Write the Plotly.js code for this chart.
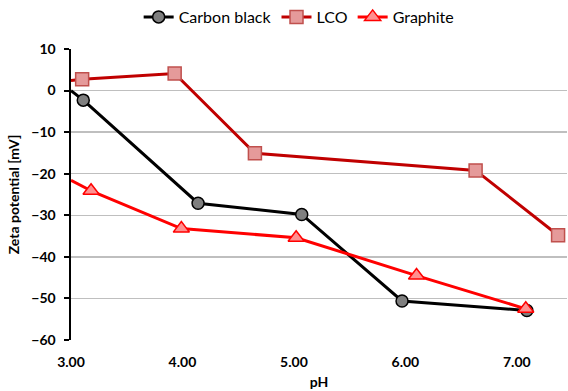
<!DOCTYPE html>
<html>
<head>
<meta charset="utf-8">
<script src="https://cdn.plot.ly/plotly-3.0.1.min.js"></script>
<style>html,body{margin:0;padding:0;background:#fff;}#chart{width:568px;height:391px;}</style>
</head>
<body>
<div id="chart"></div>
<script>
// Data
const cbPH = [3.11, 4.14, 5.07, 5.97, 7.09];
const cbZeta = [-2.3, -27.1, -29.8, -50.6, -52.9];
const cbLeadPH = [3.0, 3.11];
const cbLeadZeta = [0.0, -2.3];

const lcoPH = [3.10, 3.93, 4.65, 6.63, 7.37];
const lcoZeta = [2.7, 4.1, -15.1, -19.2, -34.8];
const lcoLeadPH = [3.0, 3.10];
const lcoLeadZeta = [2.4, 2.7];

const grPH = [3.18, 3.99, 5.02, 6.10, 7.08];
const grZeta = [-24.1, -33.2, -35.4, -44.5, -52.5];
const grLeadPH = [3.0, 3.18];
const grLeadZeta = [-21.6, -24.1];

const xTicks = [3, 4, 5, 6, 7];
const yTicks = [10, 0, -10, -20, -30, -40, -50, -60];

const FONT = 'Lato, "Open Sans", sans-serif';

const traces = [
  {x: cbLeadPH, y: cbLeadZeta, mode: 'lines', line: {color: '#000000', width: 3}, showlegend: false, hoverinfo: 'skip'},
  {x: lcoLeadPH, y: lcoLeadZeta, mode: 'lines', line: {color: '#C00000', width: 3}, showlegend: false, hoverinfo: 'skip'},
  {x: grLeadPH, y: grLeadZeta, mode: 'lines', line: {color: '#FF0000', width: 3}, showlegend: false, hoverinfo: 'skip'},
  {x: cbPH, y: cbZeta, name: 'Carbon black', mode: 'lines+markers',
   line: {color: '#000000', width: 3},
   marker: {symbol: 'circle', size: 12, color: '#7F7F7F', line: {color: '#000000', width: 1.5}}},
  {x: lcoPH, y: lcoZeta, name: 'LCO', mode: 'lines+markers',
   line: {color: '#C00000', width: 3},
   marker: {symbol: 'square', size: 13, color: '#E59A9A', line: {color: '#C0504D', width: 1.5}}},
  {x: grPH, y: grZeta, name: 'Graphite', mode: 'lines+markers',
   line: {color: '#FF0000', width: 3},
   marker: {symbol: 'triangle-up', size: 14, color: '#FF8F8F', line: {color: '#FF0000', width: 1.5}}}
];

const layout = {
  width: 568, height: 391,
  margin: {l: 71, r: 1, t: 49, b: 51, autoexpand: false},
  paper_bgcolor: '#ffffff', plot_bgcolor: '#ffffff',
  font: {family: FONT, color: '#000000'},
  showlegend: true,
  legend: {orientation: 'h', x: 0.46, xanchor: 'center', y: 1.11, yanchor: 'middle',
           font: {family: FONT, size: 16, color: '#000000'}, traceorder: 'normal'},
  xaxis: {
    range: [3, 7.45], tickvals: xTicks, tickformat: '.2f',
    showgrid: false, zeroline: false, showline: false, ticks: '',
    ticklabelstandoff: 12,
    tickfont: {family: FONT, size: 14, color: '#000000', weight: 'bold'},
    title: {text: '<b>pH</b>', font: {family: FONT, size: 14}, standoff: 8}
  },
  xaxis2: {
    range: [3, 7.45], tickvals: xTicks, overlaying: 'x', anchor: 'free', position: 60/70,
    showticklabels: false, showgrid: false, zeroline: false,
    showline: true, linecolor: '#000000', linewidth: 2,
    ticks: 'outside', ticklen: 5, tickwidth: 2, tickcolor: '#000000'
  },
  yaxis: {
    range: [-60, 10], tickvals: yTicks,
    showgrid: true, gridcolor: '#BFBFBF', gridwidth: 1.5, zeroline: false,
    showline: true, linecolor: '#000000', linewidth: 2.5,
    ticks: 'outside', ticklen: 5, tickwidth: 2, tickcolor: '#000000',
    ticklabelstandoff: 5,
    tickfont: {family: FONT, size: 14, color: '#000000', weight: 'bold'},
    title: {text: '<b>Zeta potential [mV]</b>', font: {family: FONT, size: 14}, standoff: 9}
  }
};

Plotly.newPlot('chart', traces, layout, {displayModeBar: false, staticPlot: true});
</script>
</body>
</html>
